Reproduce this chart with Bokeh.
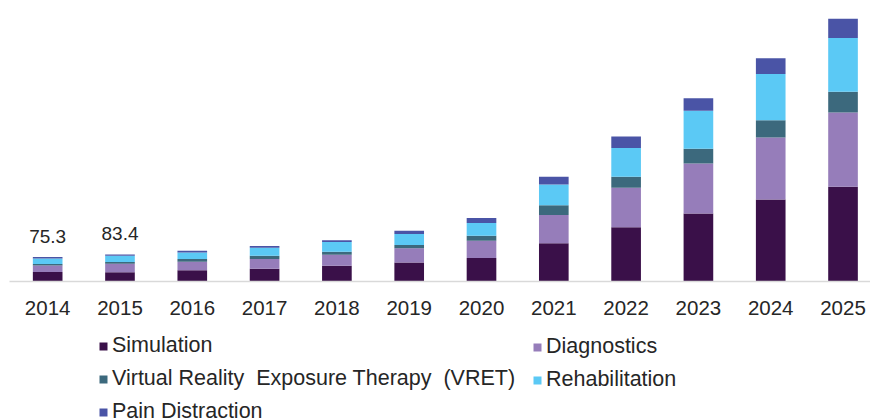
from bokeh.plotting import figure
from bokeh.models import Range1d, FixedTicker, ColumnDataSource, Legend, LegendItem
from bokeh.layouts import column
from bokeh.core.properties import value
from bokeh.embed import file_html
from bokeh.resources import INLINE

years = [2014, 2015, 2016, 2017, 2018, 2019, 2020, 2021, 2022, 2023, 2024, 2025]
simulation = [29.0, 28.8, 35.0, 39.1, 48.4, 58.7, 72.1, 117.4, 166.9, 209.1, 252.3, 291.5]
diagnostics = [20.4, 25.9, 25.8, 29.8, 34.0, 43.3, 53.6, 87.5, 121.5, 154.5, 190.6, 228.7]
vret = [4.3, 5.1, 8.2, 10.3, 9.3, 10.3, 15.5, 29.9, 34.0, 45.3, 53.6, 63.9]
rehabilitation = [17.3, 19.5, 20.6, 24.7, 29.9, 34.0, 39.1, 63.9, 88.6, 116.4, 142.1, 165.8]
pain_distraction = [4.3, 4.1, 5.2, 5.2, 5.2, 10.3, 15.5, 23.7, 35.0, 39.1, 48.4, 58.7]

series_keys = ["sim", "diag", "vret", "rehab", "pain"]
series_names = ["Simulation", "Diagnostics", "Virtual Reality  Exposure Therapy  (VRET)",
                "Rehabilitation", "Pain Distraction"]
colors = ["#3A1049", "#967DBA", "#3C697D", "#5BC9F5", "#4A54A6"]

label_years = [2014, 2015]
label_texts = ["75.3", "83.4"]

FONT = "Liberation Sans"
TEXT_COLOR = "#262626"

src = ColumnDataSource(dict(x=years, sim=simulation, diag=diagnostics, vret=vret,
                            rehab=rehabilitation, pain=pain_distraction))

# ---- main chart ----
p = figure(width=870, height=331, output_backend="svg", toolbar_location=None,
           x_range=Range1d(2013.472, 2025.38), y_range=Range1d(0, 865),
           y_axis_location=None, min_border_left=9, min_border_right=0,
           min_border_top=0, min_border_bottom=50)
p.outline_line_color = None
p.grid.visible = False

p.vbar_stack(series_keys, x="x", width=0.41, source=src, color=colors, line_color=None)

totals = {y: simulation[i] + diagnostics[i] + vret[i] + rehabilitation[i] + pain_distraction[i]
          for i, y in enumerate(years)}
lsrc = ColumnDataSource(dict(x=label_years, y=[totals[y] for y in label_years], t=label_texts))
p.text(x="x", y="y", text="t", source=lsrc, text_align="center", text_baseline="alphabetic",
       y_offset=-21, text_font=value(FONT), text_font_size="19px", text_color=TEXT_COLOR)

xa = p.xaxis[0]
xa.ticker = FixedTicker(ticks=years)
xa.major_label_overrides = {y: str(y) for y in years}
xa.axis_line_color = "#D9D9D9"
xa.axis_line_width = 1.5
xa.major_tick_line_color = None
xa.minor_tick_line_color = None
xa.major_tick_out = 0
xa.major_tick_in = 0
xa.major_label_standoff = 19
xa.major_label_text_font = FONT
xa.major_label_text_font_size = "20.5px"
xa.major_label_text_color = TEXT_COLOR

# ---- legend strip (its bars lie outside its visible range; only the legend shows) ----
lp = figure(width=870, height=88, output_backend="svg", toolbar_location=None,
            x_range=Range1d(0, 1), y_range=Range1d(0, 1),
            x_axis_location=None, y_axis_location=None,
            min_border_left=0, min_border_right=0, min_border_top=0, min_border_bottom=0)
lp.outline_line_color = None
lp.grid.visible = False

proxies = lp.vbar_stack(series_keys, x="x", width=0.41, source=src, color=colors,
                        line_color=None)
items = [LegendItem(label=n, renderers=[r]) for n, r in zip(series_names, proxies)]


def make_legend(its, loc):
    lg = Legend(items=its, location=loc, orientation="vertical")
    lg.border_line_color = None
    lg.background_fill_alpha = 0
    lg.padding = 0
    lg.margin = 0
    lg.spacing = 8
    lg.glyph_width = 10
    lg.glyph_height = 10
    lg.label_standoff = 4
    lg.label_height = 20
    lg.label_text_font = FONT
    lg.label_text_font_size = "21.5px"
    lg.label_text_color = TEXT_COLOR
    return lg


lp.add_layout(make_legend([items[0], items[2], items[4]], (89, -5)))
lp.add_layout(make_legend([items[1], items[3]], (523, 27)))

layout = column(p, lp, spacing=0)
open("out.html", "w").write(file_html(layout, INLINE))
